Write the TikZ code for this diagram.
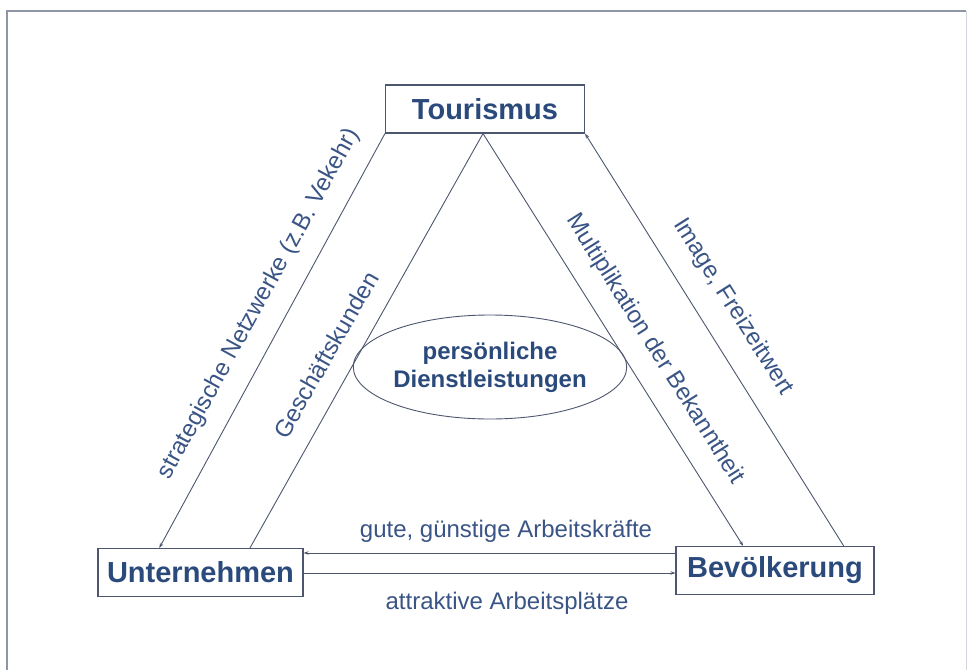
\documentclass[tikz,border=0pt]{standalone}
\usepackage{fontspec}
\setmainfont{Liberation Sans}
\usetikzlibrary{arrows.meta,calc,shapes.geometric}
\definecolor{txtblue}{HTML}{2B4A7C}
\definecolor{lblblue}{HTML}{3A5585}
\definecolor{linec}{HTML}{4C566E}
\definecolor{framec}{HTML}{8E96A6}
\tikzset{
  boxnode/.style={draw=linec, line width=1.1pt, minimum width=#1, minimum height=48pt, inner sep=0pt,
     text=txtblue, font=\fontsize{29}{32}\selectfont\bfseries},
  conn/.style={draw=linec, line width=0.9pt},
  tipend/.style={-{Stealth[length=5pt,width=3.5pt]}},
  lbl/.style={text=lblblue, font=\fontsize{24}{27}\selectfont, inner sep=0pt},
}
\begin{document}
\begin{tikzpicture}[x=1pt,y=-1pt]
\useasboundingbox (0,0) rectangle (967,670);
% frame
\draw[framec, line width=1.2pt] (7,670) -- (7,11) -- (966,11);
\draw[framec!40, line width=0.8pt] (966,11) -- (966,670);
% boxes
\node[boxnode=199pt] (tour) at (485,109) {Tourismus};
\node[boxnode=205pt] (unt) at (200.5,572.5) {Unternehmen};
\node[boxnode=198pt] (bev) at (775,570.5) {Bevölkerung};
% ellipse
\node[ellipse, draw=linec, line width=0.9pt, minimum width=236pt, minimum height=104pt, inner sep=0pt,
      text=txtblue, font=\fontsize{24}{28}\selectfont\bfseries, align=center] (pd) at (490,367)
      {persönliche\\Dienstleistungen};
% connector end points
\coordinate (tapex) at ($(tour.south west)!0.49!(tour.south east)$);
\coordinate (u1) at ($(unt.north west)!0.30!(unt.north east)$);
\coordinate (u2) at ($(unt.north west)!0.74!(unt.north east)$);
\coordinate (b1) at ($(bev.north west)!0.34!(bev.north east)$);
\coordinate (b2) at ($(bev.north west)!0.845!(bev.north east)$);
\coordinate (h1) at (0,553);
\coordinate (h2) at (0,573);
% diagonal connectors
\draw[conn, tipend] (tour.south west) -- (u1);
\draw[conn] (u2) -- (tapex);
\draw[conn, tipend] (tapex) -- (b1);
\draw[conn, tipend] (b2) -- (tour.south east);
% horizontal connectors
\draw[conn, tipend] (bev.west |- h1) -- (unt.east |- h1);
\draw[conn, tipend] (unt.east |- h2) -- (bev.west |- h2);
% labels
\node[lbl, rotate=61.3] (l1) at (259,304) {strategische Netzwerke (z.B. Vekehr)};
\node[lbl, rotate=60.2] (l2) at (326,355) {Geschäftskunden};
\node[lbl, rotate=-57.7] (l3) at (655,349) {Multiplikation der Bekanntheit};
\node[lbl, rotate=-57.7] (l4) at (733,307) {Image, Freizeitwert};
\node[lbl] (l5) at (506,531) {gute, günstige Arbeitskräfte};
\node[lbl] (l6) at (507,603) {attraktive Arbeitsplätze};
\end{tikzpicture}
\end{document}
